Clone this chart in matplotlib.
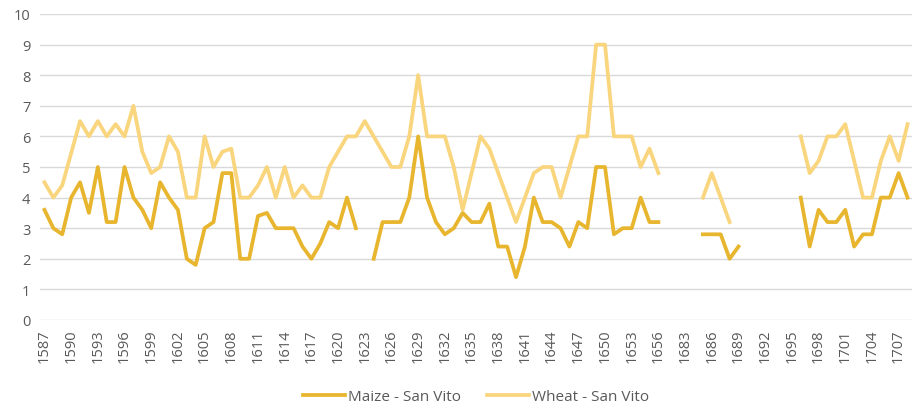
import numpy as np
import matplotlib
matplotlib.use("Agg")
import matplotlib.pyplot as plt

nan = np.nan

# years shown as categories (two unlabeled ones between 1656 and 1683)
years = list(range(1587, 1657)) + [1681, 1682] + list(range(1683, 1709))

maize = [3.6, 3.0, 2.8, 4.0, 4.5, 3.5, 5.0, 3.2, 3.2, 5.0, 4.0, 3.6, 3.0,
         4.5, 4.0, 3.6, 2.0, 1.8, 3.0, 3.2, 4.8, 4.8, 2.0, 2.0, 3.4,
         3.5, 3.0, 3.0, 3.0, 2.4, 2.0, 2.5, 3.2, 3.0, 4.0, 3.0,
         nan,
         2.0, 3.2, 3.2, 3.2, 4.0, 6.0, 4.0, 3.2, 2.8, 3.0, 3.5, 3.2, 3.2,
         3.8, 2.4, 2.4, 1.4, 2.4, 4.0, 3.2, 3.2, 3.0, 2.4, 3.2, 3.0, 5.0,
         5.0, 2.8, 3.0, 3.0, 4.0, 3.2, 3.2,
         nan, nan, nan, nan,
         2.8, 2.8, 2.8, 2.0, 2.4,
         nan, nan, nan, nan, nan, nan,
         4.0, 2.4, 3.6, 3.2, 3.2, 3.6, 2.4, 2.8, 2.8, 4.0, 4.0, 4.8, 4.0]

wheat = [4.5, 4.0, 4.4, 5.45, 6.5, 6.0, 6.5, 6.0, 6.4, 6.0, 7.0, 5.5, 4.8,
         5.0, 6.0, 5.5, 4.0, 4.0, 6.0, 5.0, 5.5, 5.6, 4.0, 4.0, 4.4,
         5.0, 4.0, 5.0, 4.0, 4.4, 4.0, 4.0, 5.0, 5.5, 6.0, 6.0,
         6.5,
         6.0, 5.5, 5.0, 5.0, 6.0, 8.0, 6.0, 6.0, 6.0, 5.0, 3.6, 4.8, 6.0,
         5.6, 4.8, 4.0, 3.2, 4.0, 4.8, 5.0, 5.0, 4.0, 5.0, 6.0, 6.0, 9.0,
         9.0, 6.0, 6.0, 6.0, 5.0, 5.6, 4.8,
         nan, nan, nan, nan,
         4.0, 4.8, 4.0, 3.2, nan,
         nan, nan, nan, nan, nan, nan,
         6.0, 4.8, 5.2, 6.0, 6.0, 6.4, 5.2, 4.0, 4.0, 5.2, 6.0, 5.2, 6.4]

plt.rcParams['font.family'] = ['Open Sans', 'DejaVu Sans']

fig = plt.figure(figsize=(9.13, 4.06), dpi=100)
ax = fig.add_axes([40 / 913, 1 - 321 / 406, 872 / 913, 306 / 406])

x = np.arange(len(years))
ax.plot(x, maize, color='#E8B52E', lw=2.7, label='Maize - San Vito', solid_joinstyle='round')
ax.plot(x, wheat, color='#F9D57E', lw=2.7, label='Wheat - San Vito', solid_joinstyle='round')

ax.set_xlim(-0.5, len(years) - 0.5)
ax.set_ylim(0, 10)
ax.set_yticks(range(0, 11))
ax.set_xticks(x[::3])
ax.set_xticklabels([str(y) for y in years[::3]], rotation=90)

ax.grid(axis='y', color='#D9D9D9', lw=1)
ax.set_axisbelow(True)
for s in ax.spines.values():
    s.set_visible(False)
ax.tick_params(length=0, labelsize=10.5, colors='#595959')
ax.tick_params(axis='y', pad=7)
ax.tick_params(axis='x', pad=6)

ax.legend(loc='lower center', bbox_to_anchor=(0.5, -0.32), ncol=2, frameon=False,
          fontsize=11, labelcolor='#595959', handlelength=2.75, columnspacing=1.75,
          handletextpad=0.2)

fig.savefig('out.png', dpi=100)
